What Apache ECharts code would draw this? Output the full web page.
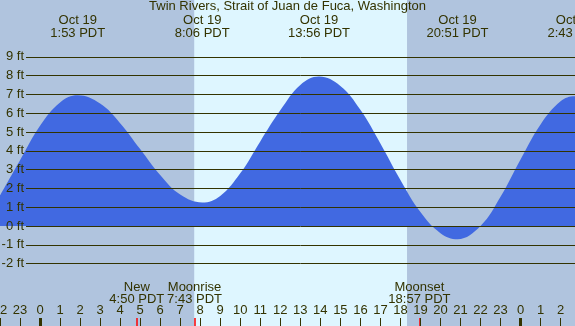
<!DOCTYPE html>
<html>
<head>
<meta charset="utf-8">
<script src="https://cdn.jsdelivr.net/npm/echarts@6/dist/echarts.min.js"></script>
<style>
  html, body { margin: 0; padding: 0; background: #b0c4de; }
  #tideChart { width: 575px; height: 326px; }
</style>
</head>
<body>
<div id="tideChart"></div>
<script>
// tide curve (hours from midnight Oct 19, feet)
const tideHours = [-2, -1, 0, 1, 1.883, 3, 4, 5, 6, 7, 8.1, 9, 10, 11, 12, 13, 13.933,
  15, 16, 17, 18, 19, 20, 20.85, 22, 23, 24, 25, 26, 26.717, 27.5]
const tideFeet = [1.62, 3.5, 5.33, 6.57, 6.95, 6.51, 5.47, 4.09, 2.71, 1.67, 1.25, 1.6, 2.8, 4.5,
  6.15, 7.5, 7.95, 7.45, 6.18, 4.39, 2.45, 0.74, -0.38, -0.7, 0.0, 1.55, 3.54, 5.4, 6.63, 6.9, 6.7]

// high / low labels along the top
const extremeHours = [1.883, 8.1, 13.933, 20.85, 26.717]
const extremeLabels = ['Oct 19\n1:53 PDT', 'Oct 19\n8:06 PDT', 'Oct 19\n13:56 PDT', 'Oct 19\n20:51 PDT', 'Oct 19\n2:43 PDT']

// moon events along the bottom
const moonHours = [4.833, 7.717, 18.95]
const moonLabels = ['New\n4:50 PDT', 'Moonrise\n7:43 PDT', 'Moonset\n18:57 PDT']

const midnightHours = [0, 24]
const sunriseHour = 7.7
const sunsetHour = 18.33

const ftLevels = [-2, -1, 0, 1, 2, 3, 4, 5, 6, 7, 8, 9]
const hourTicks = [-2, -1, 0, 1, 2, 3, 4, 5, 6, 7, 8, 9, 10, 11, 12, 13, 14, 15, 16, 17, 18, 19,
  20, 21, 22, 23, 24, 25, 26]

const xMin = -2
const xMax = 26.72
const yMin = -5.32
const yMax = 12.02
const textColor = '#333300'
const font = "'Liberation Sans', Arial, sans-serif"
const tickFt = 8 / 18.8 // 8px tick height in feet

const myChart = echarts.init(document.getElementById('tideChart'))

myChart.setOption({
  animation: false,
  backgroundColor: '#b0c4de',
  textStyle: { fontFamily: font },
  title: {
    text: 'Twin Rivers, Strait of Juan de Fuca, Washington',
    left: 'center',
    top: 0,
    padding: 0,
    textStyle: { fontSize: 13, fontWeight: 'normal', color: textColor, fontFamily: font },
  },
  grid: { left: 0, right: 0, top: 0, bottom: 0, containLabel: false, outerBoundsMode: 'none' },
  xAxis: {
    type: 'value',
    min: xMin,
    max: xMax,
    z: 10,
    axisLine: { show: false, onZero: false },
    splitLine: { show: false },
    axisTick: {
      show: true,
      inside: true,
      length: 8,
      customValues: hourTicks,
      lineStyle: { color: textColor, width: 1 },
    },
    axisLabel: {
      inside: true,
      margin: 9,
      customValues: hourTicks,
      color: textColor,
      fontSize: 13,
      fontFamily: font,
      formatter: v => String(((Math.round(v) % 24) + 24) % 24),
    },
  },
  yAxis: {
    type: 'value',
    min: yMin,
    max: yMax,
    z: 10,
    axisLine: { show: false, onZero: false },
    axisTick: { show: false },
    splitLine: { show: false },
    axisLabel: {
      inside: true,
      align: 'right',
      margin: 24,
      customValues: ftLevels,
      color: textColor,
      fontSize: 13,
      fontFamily: font,
      formatter: '{value} ft',
    },
  },
  series: [
    {
      name: 'daylight',
      type: 'line',
      z: 1,
      data: [],
      silent: true,
      markArea: {
        silent: true,
        itemStyle: { color: '#def6ff', opacity: 1 },
        data: [[{ xAxis: sunriseHour }, { xAxis: sunsetHour }]],
      },
    },
    {
      name: 'tide',
      type: 'line',
      z: 2,
      smooth: 0.4,
      showSymbol: false,
      silent: true,
      lineStyle: { width: 0 },
      areaStyle: { color: '#4169e1', opacity: 1 },
      data: tideHours.map((h, i) => [h, tideFeet[i]]),
    },
    {
      name: 'overlay',
      type: 'line',
      z: 3,
      data: [],
      silent: true,
      markLine: {
        silent: true,
        symbol: ['none', 'none'],
        label: { show: false },
        data: [
          ...ftLevels.map(v => [
            { coord: [-0.7, v], lineStyle: { color: textColor, width: 1, type: 'solid' } },
            { coord: [xMax, v] },
          ]),
          ...midnightHours.map(h => [
            { coord: [h, yMin], lineStyle: { color: textColor, width: 3, type: 'solid' } },
            { coord: [h, yMin + tickFt] },
          ]),
          ...moonHours.map(h => [
            { coord: [h, yMin], lineStyle: { color: '#ff0000', width: 1.5, type: 'solid' } },
            { coord: [h, yMin + tickFt] },
          ]),
        ],
      },
      markPoint: {
        silent: true,
        symbol: 'circle',
        symbolSize: 1,
        itemStyle: { color: 'rgba(0,0,0,0)' },
        data: [
          ...extremeHours.map((h, i) => ({
            coord: [h, 10.6],
            label: {
              show: true,
              position: 'inside',
              formatter: extremeLabels[i],
              color: textColor,
              fontSize: 13,
              lineHeight: 12.5,
              fontFamily: font,
            },
          })),
          ...moonHours.map((h, i) => ({
            coord: [h, -3.6],
            label: {
              show: true,
              position: 'inside',
              formatter: moonLabels[i],
              color: textColor,
              fontSize: 13,
              lineHeight: 12,
              fontFamily: font,
            },
          })),
        ],
      },
    },
  ],
})
</script>
</body>
</html>
